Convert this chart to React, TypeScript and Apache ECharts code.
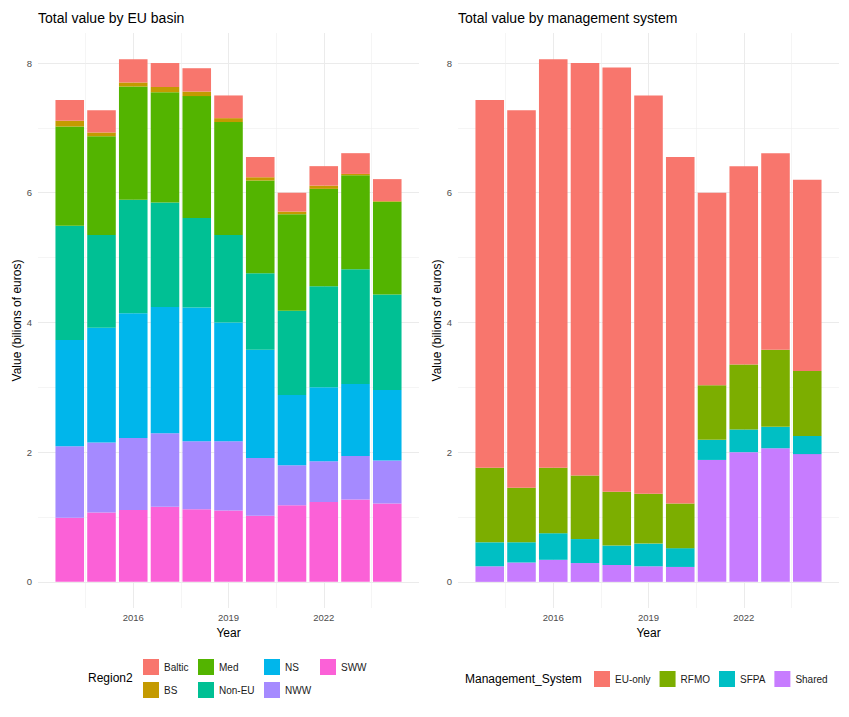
import React, { useEffect, useRef } from "react";
import * as echarts from "echarts";

const years = [2014, 2015, 2016, 2017, 2018, 2019, 2020, 2021, 2022, 2023, 2024];
const yearTicks = [2016, 2019, 2022];

// Region values (billions of euros), top of stack first
const baltic = [0.32, 0.34, 0.36, 0.37, 0.36, 0.35, 0.31, 0.29, 0.3, 0.32, 0.34];
const bs = [0.09, 0.06, 0.06, 0.08, 0.07, 0.06, 0.05, 0.04, 0.05, 0.02, 0.01];
const med = [1.53, 1.52, 1.75, 1.7, 1.88, 1.74, 1.43, 1.49, 1.5, 1.45, 1.43];
const nonEU = [1.76, 1.43, 1.75, 1.61, 1.38, 1.35, 1.18, 1.3, 1.56, 1.77, 1.47];
const ns = [1.64, 1.77, 1.92, 1.95, 2.06, 1.83, 1.67, 1.08, 1.14, 1.11, 1.09];
const nww = [1.1, 1.08, 1.11, 1.13, 1.05, 1.07, 0.89, 0.62, 0.63, 0.67, 0.66];
const sww = [0.99, 1.07, 1.11, 1.16, 1.12, 1.1, 1.02, 1.18, 1.23, 1.27, 1.21];

// Management system values
const euOnly = [5.67, 5.82, 6.3, 6.36, 6.54, 6.14, 5.34, 2.97, 3.06, 3.03, 2.95];
const rfmo = [1.15, 0.84, 1.01, 0.98, 0.83, 0.77, 0.69, 0.84, 1.0, 1.19, 1.0];
const sfpa = [0.37, 0.31, 0.41, 0.37, 0.3, 0.35, 0.29, 0.31, 0.35, 0.33, 0.28];
const shared = [0.24, 0.3, 0.34, 0.29, 0.26, 0.24, 0.23, 1.88, 2.0, 2.06, 1.97];

const regionNames = ["Baltic", "BS", "Med", "Non-EU", "NS", "NWW", "SWW"];
const regionValues = [baltic, bs, med, nonEU, ns, nww, sww];
const regionColors = ["#F8766D", "#C49A00", "#53B400", "#00C094", "#00B6EB", "#A58AFF", "#FB61D7"];

const mgmtNames = ["EU-only", "RFMO", "SFPA", "Shared"];
const mgmtValues = [euOnly, rfmo, sfpa, shared];
const mgmtColors = ["#F8766D", "#7CAE00", "#00BFC4", "#C77CFF"];

const FONT = "Liberation Sans, Arial, Helvetica, sans-serif";

export default function App() {
  const ref = useRef<HTMLDivElement>(null);

  useEffect(() => {
    if (!ref.current) return;
    const chart = echarts.init(ref.current, null, { renderer: "svg" });

    const totals = years.map((_, i) => regionValues.reduce((s, arr) => s + arr[i], 0));
    const top = Math.max(...totals);
    const yMin = -0.05 * top;
    const yMax = top * 1.05;
    const xMin = years[0] - 1;
    const xMax = years[years.length - 1] + 1;
    const cats = [xMin, ...years, xMax].map(String);

    const gridTop = 33;
    const gridHeight = 575;
    const grids = [
      { left: 38, top: gridTop, width: 381, height: gridHeight, outerBoundsMode: "none" },
      { left: 458, top: gridTop, width: 381, height: gridHeight, outerBoundsMode: "none" },
    ];

    // value axis: gridlines + tick labels
    const makeXValue = (gi: number) => ({
      type: "value",
      gridIndex: gi,
      position: "bottom",
      min: xMin,
      max: xMax,
      interval: 3,
      name: "Year",
      nameLocation: "middle",
      nameGap: 18,
      nameTextStyle: { fontSize: 12, color: "#000", fontFamily: FONT },
      axisLine: { show: false },
      axisTick: { show: false },
      axisLabel: {
        fontSize: 9.5,
        color: "#4D4D4D",
        margin: 4,
        showMinLabel: false,
        showMaxLabel: false,
        fontFamily: FONT,
        formatter: (v: number) => (yearTicks.includes(v) ? String(v) : ""),
      },
      splitLine: { show: true, showMinLine: false, showMaxLine: false, lineStyle: { color: "#EBEBEB", width: 1 } },
      minorTick: { show: false, splitNumber: 2 },
      minorSplitLine: { show: true, lineStyle: { color: "#EFEFEF", width: 0.6 } },
    });

    // category axis: bar placement only
    const makeXCat = (gi: number) => ({
      type: "category",
      gridIndex: gi,
      position: "bottom",
      data: cats,
      boundaryGap: false,
      show: false,
      axisLine: { show: false },
      axisTick: { show: false },
      axisLabel: { show: false },
      splitLine: { show: false },
    });

    const makeY = (gi: number) => ({
      type: "value",
      gridIndex: gi,
      min: yMin,
      max: yMax,
      name: "Value (bilions of euros)",
      nameLocation: "middle",
      nameGap: 14,
      nameTextStyle: { fontSize: 12, color: "#000", fontFamily: FONT },
      axisLine: { show: false },
      axisTick: { show: false },
      axisLabel: {
        fontSize: 9.5,
        color: "#4D4D4D",
        margin: 6,
        showMinLabel: false,
        showMaxLabel: false,
        fontFamily: FONT,
        formatter: (v: number) => (Math.abs(v - Math.round(v)) < 1e-6 ? String(Math.round(v)) : ""),
      },
      splitLine: { show: true, showMinLine: false, showMaxLine: false, lineStyle: { color: "#EBEBEB", width: 1 } },
      minorTick: { show: false, splitNumber: 2 },
      minorSplitLine: { show: true, lineStyle: { color: "#EFEFEF", width: 0.6 } },
    });

    const pad = (arr: number[]) => ["-", ...arr, "-"];

    const series: any[] = [];
    // bottom of stack first
    for (let k = regionNames.length - 1; k >= 0; k--) {
      series.push({
        name: regionNames[k],
        type: "bar",
        stack: "region",
        xAxisIndex: 2,
        yAxisIndex: 0,
        barWidth: "90%",
        itemStyle: { color: regionColors[k] },
        data: pad(regionValues[k]),
      });
    }
    for (let k = mgmtNames.length - 1; k >= 0; k--) {
      series.push({
        name: mgmtNames[k],
        type: "bar",
        stack: "mgmt",
        xAxisIndex: 3,
        yAxisIndex: 1,
        barWidth: "90%",
        itemStyle: { color: mgmtColors[k] },
        data: pad(mgmtValues[k]),
      });
    }

    const legendBase = {
      icon: "rect",
      itemWidth: 16,
      itemHeight: 16,
      padding: 0,
      selectedMode: false,
      textStyle: { fontSize: 10, color: "#1A1A1A", fontFamily: FONT },
    };

    const option: any = {
      animation: false,
      textStyle: { fontFamily: FONT },
      title: [
        {
          text: "Total value by EU basin",
          left: 38,
          top: 11,
          padding: 0,
          textStyle: { fontSize: 14, fontWeight: "normal", color: "#000", fontFamily: FONT },
        },
        {
          text: "Total value by management system",
          left: 458,
          top: 11,
          padding: 0,
          textStyle: { fontSize: 14, fontWeight: "normal", color: "#000", fontFamily: FONT },
        },
      ],
      grid: grids,
      xAxis: [makeXValue(0), makeXValue(1), makeXCat(0), makeXCat(1)],
      yAxis: [makeY(0), makeY(1)],
      legend: [
        { ...legendBase, orient: "vertical", itemGap: 7, left: 143, top: 659, data: ["Baltic", "BS"] },
        { ...legendBase, orient: "vertical", itemGap: 7, left: 198, top: 659, data: ["Med", "Non-EU"] },
        { ...legendBase, orient: "vertical", itemGap: 7, left: 264, top: 659, data: ["NS", "NWW"] },
        { ...legendBase, orient: "vertical", itemGap: 7, left: 320, top: 659, data: ["SWW"] },
        { ...legendBase, orient: "horizontal", itemGap: 9, left: 594, top: 671, data: mgmtNames },
      ],
      graphic: [
        {
          type: "text",
          x: 88,
          y: 678,
          style: { text: "Region2", fontSize: 12, fill: "#000", fontFamily: FONT, verticalAlign: "middle" },
        },
        {
          type: "text",
          x: 465,
          y: 679,
          style: { text: "Management_System", fontSize: 12, fill: "#000", fontFamily: FONT, verticalAlign: "middle" },
        },
      ],
      series,
    };

    chart.setOption(option);
    return () => chart.dispose();
  }, []);

  return (
    <div
      ref={ref}
      style={{ position: "absolute", left: 0, top: 0, width: 849, height: 717, background: "#fff" }}
    />
  );
}
